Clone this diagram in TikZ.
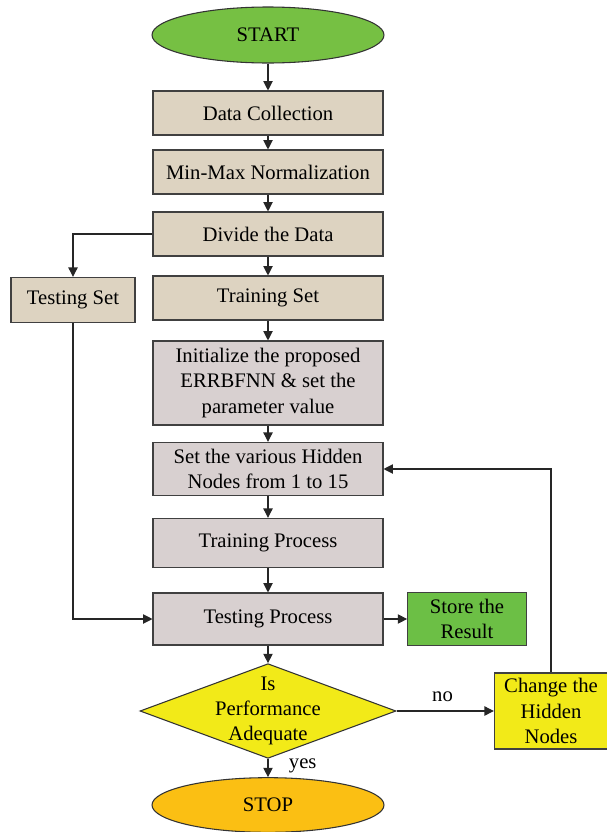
\documentclass[tikz,border=0pt]{standalone}
\usepackage{fontspec}
\setmainfont{Liberation Serif}
\usepackage{tikz}
\usetikzlibrary{shapes.geometric, positioning, arrows.meta}

\definecolor{tanfill}{HTML}{DDD3C1}
\definecolor{grayfill}{HTML}{D8D0D0}
\definecolor{startgreen}{HTML}{76C043}
\definecolor{storegreen}{HTML}{6CBF45}
\definecolor{decyellow}{HTML}{F2EA18}
\definecolor{stoporange}{HTML}{FBBF13}

\begin{document}
\begin{tikzpicture}[x=0.75pt, y=-0.75pt, font=\fontsize{15.5}{19}\selectfont,
    >={Triangle[width=7pt, length=7pt]},
    line/.style={draw=black!85, line width=0.8pt},
    term/.style={ellipse, draw=black!80, line width=0.8pt, minimum width=174pt, minimum height=42pt},
    tanbox/.style={rectangle, draw=black!75, line width=0.8pt, fill=tanfill, minimum width=172.5pt, minimum height=33pt, align=center},
    procbox/.style={rectangle, draw=black!75, line width=0.8pt, fill=grayfill, minimum width=172.5pt, align=center, inner sep=1pt}]
    \useasboundingbox (0,0) rectangle (607,832);

    % Main column
    \node[term, fill=startgreen] (start) at (268,35) {START};
    \node[tanbox] (collect) at (268,113) {Data Collection};
    \node[tanbox] (norm) at (268,172) {Min-Max Normalization};
    \node[tanbox] (divide) at (268,234) {Divide the Data};
    \node[tanbox] (trainset) at (268,298) {Training Set};
    \node[tanbox, minimum width=93pt, minimum height=34pt] (testset) at (73,300) {Testing Set};
    \node[procbox, minimum height=63pt] (init) at (268,383) {Initialize the proposed\\ERRBFNN \& set the\\parameter value};
    \node[procbox, minimum height=40pt] (hidden) at (268,469) {Set the various Hidden\\Nodes from 1 to 15};
    \node[procbox, minimum height=37pt] (trainproc) at (268,543) {Training Process};
    \node[procbox, minimum height=39pt] (testproc) at (268,619) {Testing Process};
    \node[rectangle, draw=black!75, line width=0.8pt, fill=storegreen, minimum width=89pt, minimum height=40pt, align=center, inner sep=1pt] (store) at (467,619) {Store the\\Result};
    \node[diamond, draw=black!80, line width=0.8pt, fill=decyellow, minimum width=192pt, minimum height=71pt, inner sep=0pt,
        label={[align=center]center:Is\\Performance\\Adequate}] (perf) at (268,711) {};
    \node[rectangle, draw=black!75, line width=0.8pt, fill=decyellow, minimum width=85pt, minimum height=57pt, align=center, inner sep=1pt] (change) at (551,711) {Change the\\Hidden\\Nodes};
    \node[term, fill=stoporange, minimum height=41pt] (stop) at (268,805) {STOP};

    % Connections
    \draw[line, ->] (start) -- (collect);
    \draw[line, ->] (collect) -- (norm);
    \draw[line, ->] (norm) -- (divide);
    \draw[line, ->] (divide) -- (trainset);
    \draw[line, ->] (divide.west) -| (testset.north);
    \draw[line, ->] (trainset) -- (init);
    \draw[line, ->] (init) -- (hidden);
    \draw[line, ->] (hidden) -- (trainproc);
    \draw[line, ->] (trainproc) -- (testproc);
    \draw[line, ->] (testset.south) |- (testproc.west);
    \draw[line, ->] (testproc) -- (store);
    \draw[line, ->] (testproc) -- (perf);
    \draw[line, ->] (perf) -- (stop) node[pos=0.4, right, xshift=12pt] {yes};
    \draw[line, ->] (perf.east) -- (change.west) node[midway, above, yshift=3pt, xshift=-2pt] {no};
    \draw[line, ->] (change.north) |- (hidden.east);
\end{tikzpicture}
\end{document}
